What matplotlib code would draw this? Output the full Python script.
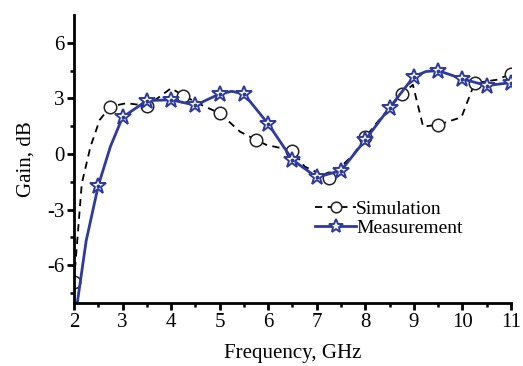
import matplotlib
matplotlib.use("Agg")
import matplotlib.pyplot as plt
import numpy as np

plt.rcParams['font.family'] = ['Liberation Serif', 'DejaVu Serif']
plt.rcParams['mathtext.fontset'] = 'stix'

# Simulation (dashed, circles every 0.75 GHz)
sim_freq = [2.0, 2.16, 2.34, 2.53, 2.75, 3.08, 3.5, 3.77, 4.0, 4.25, 4.66, 5.0,
            5.42, 5.75, 5.96, 6.5, 6.75, 7.25, 7.75, 8.0, 8.23, 8.75, 8.98, 9.19,
            9.5, 9.98, 10.25, 10.7, 11.0]
sim_gain = [-6.9, -1.6, 0.4, 1.84, 2.56, 2.74, 2.6, 3.1, 3.55, 3.15, 2.6, 2.2,
            1.2, 0.76, 0.49, 0.18, -0.68, -1.31, -0.05, 0.9, 1.66, 3.24, 3.73, 1.48,
            1.57, 1.98, 3.82, 4.0, 4.32]
sim_marker_freq = [2.0, 2.75, 3.5, 4.25, 5.0, 5.75, 6.5, 7.25, 8.0, 8.75, 9.5, 10.25, 11.0]

# Measurement (solid, stars every 0.5 GHz)
meas_freq = [2.07, 2.25, 2.5, 2.75, 3.0, 3.5, 4.0, 4.5, 5.0, 5.25, 5.5, 6.0, 6.5, 7.0,
             7.5, 8.0, 8.5, 9.0, 9.25, 9.5, 10.0, 10.5, 11.0]
meas_gain = [-8.0, -4.7, -1.71, 0.4, 1.98, 2.88, 2.92, 2.63, 3.24, 3.38, 3.24, 1.62, -0.32,
             -1.26, -0.9, 0.76, 2.5, 4.18, 4.45, 4.5, 4.05, 3.69, 3.85]
meas_marker_freq = [2.5, 3.0, 3.5, 4.0, 4.5, 5.0, 5.5, 6.0, 6.5, 7.0, 7.5, 8.0,
                    8.5, 9.0, 9.5, 10.0, 10.5, 11.0]

x_ticks = [2, 3, 4, 5, 6, 7, 8, 9, 10, 11]
y_ticks = [-6, -3, 0, 3, 6]

blue = '#2d3a9e'

fig = plt.figure(figsize=(5.23, 3.66), dpi=100)
ax = fig.add_axes([0.1415, 0.172, 0.8355, 0.787])

sim_idx = [sim_freq.index(f) for f in sim_marker_freq]
meas_idx = [meas_freq.index(f) for f in meas_marker_freq]

ax.plot(sim_freq, sim_gain, color='black', lw=1.3, ls=(0, (4, 3)),
        marker='o', markevery=sim_idx, markersize=9, markerfacecolor='white',
        markeredgecolor='#222222', markeredgewidth=1.1, label='Simulation')
ax.plot(meas_freq, meas_gain, color=blue, lw=2.0,
        marker='*', markevery=meas_idx, markersize=12, markerfacecolor='white',
        markeredgecolor=blue, markeredgewidth=1.4, label='Measurement')
ax.plot([meas_freq[i] for i in meas_idx], [meas_gain[i] for i in meas_idx],
        ls='none', marker='o', markersize=1.8, color=blue)

ax.set_xlim(2, 11)
ax.set_ylim(-8.05, 7.5)
ax.set_xticks(x_ticks)
ax.set_yticks(y_ticks)
ax.set_xticks(np.arange(2.5, 11, 1.0), minor=True)
ax.set_yticks([-7.5, -4.5, -1.5, 1.5, 4.5], minor=True)
ax.set_yticklabels(['-6', '-3', '0', '3', '6'])

for s in ['top', 'right']:
    ax.spines[s].set_visible(False)
for s in ['left', 'bottom']:
    ax.spines[s].set_linewidth(2.0)
ax.tick_params(which='major', direction='out', length=5, width=2.0, labelsize=15, pad=2)
ax.tick_params(which='minor', direction='out', length=3, width=1.8)

ax.set_xlabel('Frequency, GHz', fontsize=15, labelpad=9)
ax.set_ylabel('Gain, dB', fontsize=15, labelpad=8)

leg = ax.legend(loc='upper left', bbox_to_anchor=(0.53, 0.39), frameon=False,
                fontsize=14, handlelength=2.1, handletextpad=0.0,
                labelspacing=0.05, borderpad=0, markerscale=0.85)

fig.savefig('out.png', dpi=100)
